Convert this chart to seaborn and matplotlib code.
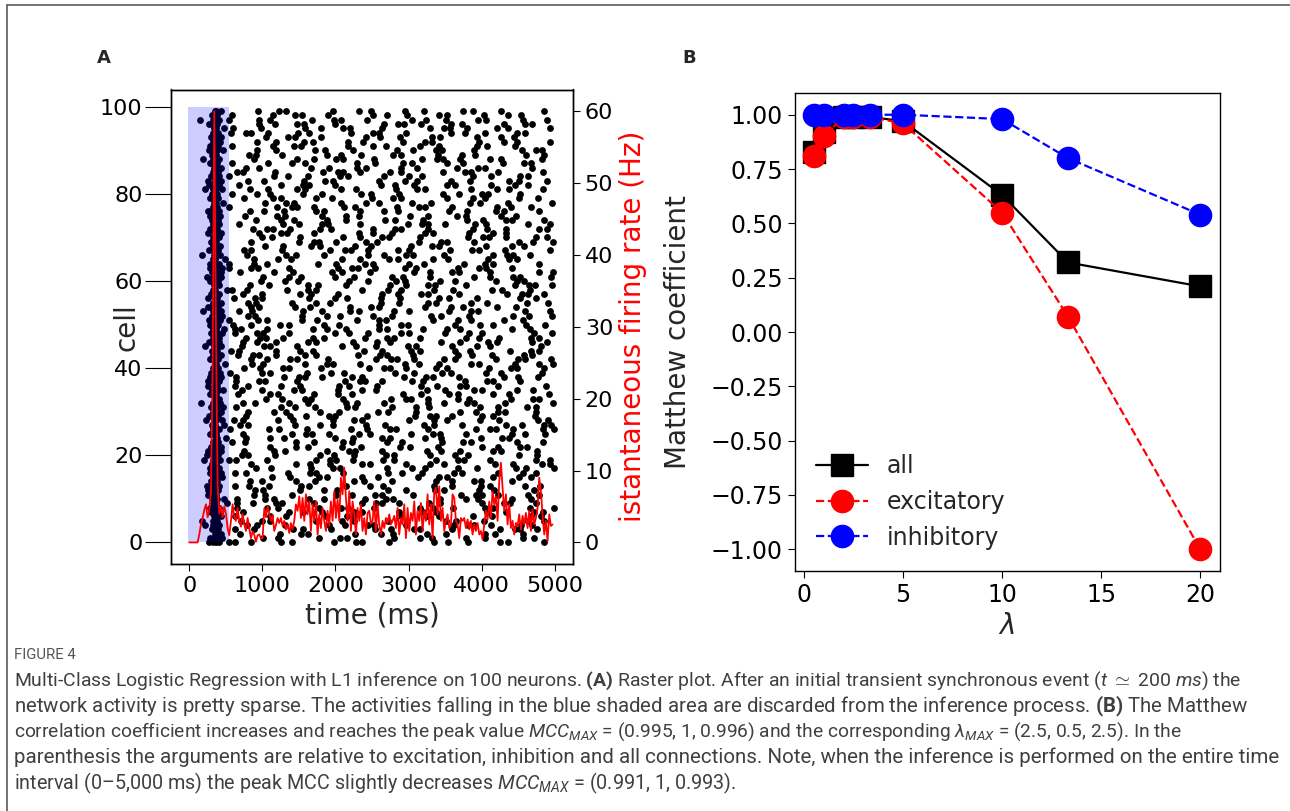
import numpy as np
import pandas as pd
import matplotlib
matplotlib.use('Agg')
import matplotlib.pyplot as plt
import seaborn as sns
from matplotlib.lines import Line2D

sns.set_style('ticks')
plt.rcParams['font.family'] = ['DejaVu Sans']
plt.rcParams['axes.edgecolor'] = 'black'
plt.rcParams['axes.linewidth'] = 1.0
plt.rcParams['xtick.color'] = 'black'
plt.rcParams['ytick.color'] = 'black'
plt.rcParams['xtick.major.size'] = 5
plt.rcParams['ytick.major.size'] = 5
plt.rcParams['mathtext.fontset'] = 'custom'
plt.rcParams['mathtext.rm'] = 'Roboto'
plt.rcParams['mathtext.it'] = 'Roboto:italic'
plt.rcParams['mathtext.bf'] = 'Roboto:bold'

# ---- panel A: spike times per cell (units of 10 ms), cell 0 first ----
# synchronous burst at the start
burst_rows = [
    "27 33 36 40", "29 34 38 45", "35 37 43", "31 34 39", "22 33 36 41",
    "18 32 35 38", "34 37 44", "30 33 36 39", "28 35 40", "33 36 52",
    "31 35 38 47", "25 34 37", "26 32 36 39", "24 33 35 41", "30 34 38",
    "32 36 45", "29 35 38 44", "29 33 37 40", "31 34 36", "20 33 37 42",
    "24 32 35 39", "26 34 36 43", "30 33 38 44", "32 35 39", "36 38 50",
    "28 31 34 37", "33 36 40", "31 35 48", "23 34 37 45", "27 32 36 39",
    "33 35 43", "30 34 38 46", "16 32 36 42", "35 37 41", "29 33 36",
    "31 35 39 46", "25 34 38", "26 32 35 40", "28 33 36 44", "30 34 37 42",
    "32 35 39", "35 37 49", "28 31 36 39", "33 36 44", "31 34 38",
    "21 34 37 43", "27 33 35 40", "32 36 41", "30 35 38 45", "33 37 47",
    "29 32 36 39", "27 34 36 42", "31 35 38 45", "19 33 37 44", "25 30 34 39",
    "32 36 43", "26 35 38", "30 33 37 41", "32 35 51", "34 37 40",
    "28 31 36 39", "24 33 36 43", "31 34 38 44", "29 35 37 45", "29 33 36 40",
    "32 35 49", "17 34 38 42", "27 32 35 39", "33 36 42", "30 34 37",
    "32 36 40", "25 35 37 44", "28 31 34 38", "33 36 41", "31 35 39",
    "28 34 37 42", "26 30 33 36 40", "32 35 38", "34 37 46", "29 33 36 39",
    "31 35 38", "22 33 36 45", "27 32 34 37 41", "26 35 38 43", "30 33 36 40",
    "32 35 39", "34 37 44", "28 31 35 38", "19 33 36 40", "31 34 37",
    "27 35 38 46", "29 32 36 39", "33 36 42", "30 34 37 44", "32 35 39",
    "34 37 48", "27 31 35 38", "15 33 36 40", "31 34 38", "35 37 43",
]
# sparse activity afterwards
sparse_rows = [
    "54 62 85 126 141 198 228 237 273 335 354 381 425 436 486",
    "101 122 177 206 216 280 315 332 378 404 457 471",
    "69 124 153 163 227 262 279 325 351 404 418 456",
    "63 89 142 156 194 254 276 307 316 359 425 445 453 476",
    "79 93 131 191 213 244 253 296 362 382 390 413 454 469",
    "71 100 110 174 209 226 272 298 351 365 403 463 485",
    "63 111 132 187 216 226 290 325 342 388 414 467 481",
    "74 136 155 182 226 237 287 320 338 408 433 472 484",
    "65 106 121 178 208 217 253 315 334 361 405 416 466 499",
    "65 87 118 127 170 236 256 264 287 328 343 400 430 439 475",
    "65 104 116 164 185 240 269 279 343 378 395 441 467",
    "89 103 141 201 223 254 263 306 372 392 400 423 464 479",
    "90 101 151 184 202 272 297 336 348 396 417 472",
    "63 82 109 153 164 214 247 265 335 360 399 411 459 480",
    "83 100 146 172 225 239 277 337 359 390 399 442",
    "113 138 177 189 237 258 313 342 352 416 451 468",
    "63 78 135 165 174 210 272 291 318 362 373 423 456 474",
    "91 112 167 196 206 270 305 322 368 394 447 461 499",
    "84 146 165 192 236 247 297 330 348 418 443 482 494",
    "55 64 107 173 193 201 224 265 280 337 367 376 412 474 493",
    "72 81 117 179 198 225 269 280 330 363 381 451 476",
    "75 116 131 188 218 227 263 325 344 371 415 426 476",
    "111 146 163 209 235 288 302 340 400 422 453 462",
    "58 76 146 171 210 222 270 291 346 375 385 449 484",
    "78 111 129 199 224 263 275 323 344 399 428 438",
    "74 140 160 168 191 232 247 304 334 343 379 441 460 487",
    "56 109 123 161 221 243 274 283 326 392 412 420 443 484 499",
    "70 80 144 179 196 242 268 321 335 373 433 455 486 495",
    "61 73 121 142 197 226 236 300 335 352 398 424 477 491",
    "78 138 160 191 200 243 309 329 337 360 401 416 473",
    "81 116 133 179 205 258 272 310 370 392 423 432 475",
    "64 126 145 172 216 227 277 310 328 398 423 462 474",
    "73 90 136 162 215 229 267 327 349 380 389 432 498",
    "105 127 158 167 210 276 296 304 327 368 383 440 470 479",
    "66 110 121 171 204 222 292 317 356 368 416 437 492",
    "72 99 143 154 204 237 255 325 350 389 401 449 470",
    "63 80 126 152 205 219 257 317 339 370 379 422 488",
    "64 95 104 147 213 233 241 264 305 320 377 407 416 452",
    "64 130 150 158 181 222 237 294 324 333 369 431 450 477",
    "56 100 111 161 194 212 282 307 346 358 406 427 482",
    "75 97 128 137 180 246 266 274 297 338 353 410 440 449 485",
    "86 101 158 188 197 233 295 314 341 385 396 446 479 497",
    "85 107 138 147 190 256 276 284 307 348 363 420 450 459 495",
    "67 87 95 118 159 174 231 261 270 306 368 387 414 458 469",
    "57 68 118 151 169 239 264 303 315 363 384 439 468 478",
    "72 102 111 147 209 228 255 299 310 360 393 411 481",
    "73 92 119 163 174 224 257 275 345 370 409 421 469 490",
    "77 97 105 128 169 184 241 271 280 316 378 397 424 468 479",
    "62 92 101 137 199 218 245 289 300 350 383 401 471 496",
    "62 71 107 169 188 215 259 270 320 353 371 441 466",
    "60 85 124 136 184 205 260 289 299 363 398 415 461 487",
    "55 94 106 154 175 230 259 269 333 368 385 431 457",
    "80 90 154 189 206 252 278 331 345 383 443 465 496",
    "68 86 156 181 220 232 280 301 356 385 395 459 494",
    "84 96 144 165 220 249 259 323 358 375 421 447",
    "80 91 141 174 192 262 287 326 338 386 407 462 491",
    "61 90 100 164 199 216 262 288 341 355 393 453 475",
    "73 99 152 166 204 264 286 317 326 369 435 455 463 486",
    "58 79 134 163 173 237 272 289 335 361 414 428 466",
    "83 109 162 176 214 274 296 327 336 379 445 465 473 496",
    "98 131 149 219 244 283 295 343 364 419 448 458",
    "101 136 153 199 225 278 292 330 390 412 443 452 495",
    "70 116 142 195 209 247 307 329 360 369 412 478 498",
    "54 85 94 137 203 223 231 254 295 310 367 397 406 442",
    "55 88 106 176 201 240 252 300 321 376 405 415 479",
    "88 121 139 209 234 273 285 333 354 409 438 448",
    "79 132 146 184 244 266 297 306 349 415 435 443 466",
    "75 84 127 193 213 221 244 285 300 357 387 396 432 494",
    "103 128 167 179 227 248 303 332 342 406 441 458",
    "84 150 170 178 201 242 257 314 344 353 389 451 470 497",
    "99 113 151 211 233 264 273 316 382 402 410 433 474 489",
    "95 125 134 170 232 251 278 322 333 383 416 434",
    "87 107 115 138 179 194 251 281 290 326 388 407 434 478 489",
    "68 128 150 181 190 233 299 319 327 350 391 406 463 493",
    "91 126 143 189 215 268 282 320 380 402 433 442 485",
    "76 120 131 181 214 232 302 327 366 378 426 447",
    "83 102 129 173 184 234 267 285 355 380 419 431 479",
    "54 120 140 148 171 212 227 284 314 323 359 421 440 467",
    "104 133 143 207 242 259 305 331 384 398 436 496",
    "75 114 126 174 195 250 279 289 353 388 405 451 477",
    "58 93 110 156 182 235 249 287 347 369 400 409 452",
    "83 108 147 159 207 228 283 312 322 386 421 438 484",
    "68 125 155 164 200 262 281 308 352 363 413 446 464",
    "81 102 157 186 196 260 295 312 358 384 437 451 489",
    "54 116 135 162 206 217 267 300 318 388 413 452 464",
    "65 74 117 183 203 211 234 275 290 347 377 386 422 484",
    "78 96 166 191 230 242 290 311 366 395 405 469",
    "58 108 141 159 229 254 293 305 353 374 429 458 468",
    "88 148 170 201 210 253 319 339 347 370 411 426 483",
    "82 91 127 189 208 235 279 290 340 373 391 461 486",
    "93 119 172 186 224 284 306 337 346 389 455 475 483",
    "59 114 143 153 217 252 269 315 341 394 408 446",
    "93 118 157 169 217 238 293 322 332 396 431 448 494",
    "105 135 144 180 242 261 288 332 343 393 426 444",
    "57 77 85 108 149 164 221 251 260 296 358 377 404 448 459",
    "60 98 158 180 211 220 263 329 349 357 380 421 436 493",
    "95 117 148 157 200 266 286 294 317 358 373 430 460 469",
    "55 96 111 168 198 207 243 305 324 351 395 406 456 489",
    "58 115 145 154 190 252 271 298 342 353 403 436 454",
    "94 123 133 197 232 249 295 321 374 388 426 486",
]
spike_unit_ms = 10

# shaded (discarded) interval and its cell span
shade_ms = (-15, 545)
shade_cells = (0, 100)

# instantaneous firing rate (Hz), sampled every 22.8 ms from t = 0
rate_dt_ms = 22.8
rate_hz = [
    0, 0, 0, 0, 0, 0, 1.1, 2.5, 3.4, 4.5,
    5.3, 3.5, 4.5, 7.0, 24, 60, 30, 8, 4.0, 5.0,
    3.5, 5.0, 4.0, 2.0, 1.0, 3.0, 5.3, 3.5, 3.0, 4.8,
    3.0, 2.2, 4.0, 2.5, 1.6, 3.4, 2.0, 0.6, 1.5, 1.1,
    0.1, 1.0, 1.1, 0.6, 0.6, 4.7, 3.5, 5.0, 4.0, 3.0,
    3.8, 1.6, 2.4,
    3.4, 2.7, 3.4, 2.3, 3.0, 1.8, 2.5, 1.3, 2.7, 1.8,
    3.0, 5.3, 4.4, 6.4, 3.4, 6.2, 3.0, 6.7, 3.9, 5.7,
    1.6, 5.3, 3.0, 5.7, 1.1, 3.9, 2.0, 4.8, 3.0, 1.6,
    4.4, 2.3, 5.7, 3.0, 7.1, 3.4, 6.0, 3.0, 9.0, 6.7,
    10.4, 6.2, 3.0, 7.1, 1.6, 5.7, 3.9, 1.1, 4.8, 3.0,
    5.3, 1.6, 3.4, 1.1, 4.1,
    4.4, 2.6, 3.0, 5.7, 1.6, 5.3, 2.5, 1.1, 3.0, 2.0,
    3.4, 2.7, 3.9, 2.5, 3.0, 3.7, 2.0, 4.8, 1.1, 3.4,
    2.5, 5.3, 0.6, 4.8, 1.6, 4.1, 3.0, 5.7, 1.1, 4.4,
    3.0, 5.5, 1.6, 4.4, 3.0, 6.7, 2.5, 5.3, 0.6, 7.1,
    7.6, 3.9, 7.8, 3.0, 4.8, 1.6, 3.0, 3.9, 2.0, 2.5,
    6.7, 6.2, 3.0, 2.5, 0.6, 3.4,
    3.0, 3.4, 2.0, 3.2, 1.8, 3.0, 1.1, 2.5, 1.6, 2.7,
    1.1, 1.6, 0.4, 2.5, 4.4, 3.2, 5.7, 3.4, 7.1, 5.3,
    6.4, 3.0, 8.5, 11.1, 7.6, 4.4, 6.7, 2.5, 5.3, 2.0,
    3.0, 1.1, 2.7, 2.3, 3.9, 1.8, 3.7, 2.5, 4.1, 2.0,
    4.4, 1.6, 4.6, 2.5, 3.4, 4.8, 9.0, 7.1, 3.9, 1.1,
    3.0, 0.2, 3.9, 2.3, 2.5,
]

# ---- panel B: Matthew correlation coefficient vs lambda ----
lam = [0.5, 1, 2, 2.5, 3.33, 5, 10, 13.33, 20]
mcc_all = [0.83, 0.92, 0.99, 0.99, 0.99, 0.97, 0.63, 0.32, 0.21]
mcc_exc = [0.81, 0.90, 0.99, 0.99, 0.99, 0.96, 0.55, 0.07, -1.00]
mcc_inh = [1.00, 1.00, 1.00, 1.00, 1.00, 1.00, 0.98, 0.80, 0.54]

caption_lines = [
    r"Multi-Class Logistic Regression with L1 inference on 100 neurons. $\mathbf{(A)}$ Raster plot. After an initial transient synchronous event ($t$ $\simeq$ 200 $ms$) the",
    r"network activity is pretty sparse. The activities falling in the blue shaded area are discarded from the inference process. $\mathbf{(B)}$ The Matthew",
    r"correlation coefficient increases and reaches the peak value $MCC_{MAX}$ = (0.995, 1, 0.996) and the corresponding $\lambda_{MAX}$ = (2.5, 0.5, 2.5). In the",
    "parenthesis the arguments are relative to excitation, inhibition and all connections. Note, when the inference is performed on the entire time",
    r"interval (0–5,000 ms) the peak MCC slightly decreases $MCC_{MAX}$ = (0.991, 1, 0.993).",
]
caption_right_px = [1237, 1248, 1180, 1275, 735]

W, H = 1290, 811
fig = plt.figure(figsize=(W / 100, H / 100), dpi=100)
fig.patch.set_facecolor('white')


def px_axes(left, top, right, bottom):
    return fig.add_axes([left / W, 1 - bottom / H, (right - left) / W, (bottom - top) / H])


# ---------- panel A ----------
axA = px_axes(171, 89.5, 573, 564)
recs = []
for cell, (b, s) in enumerate(zip(burst_rows, sparse_rows)):
    for t in (b + ' ' + s).split():
        recs.append((int(t) * spike_unit_ms, cell))
raster = pd.DataFrame(recs, columns=['time', 'cell'])
sns.scatterplot(data=raster, x='time', y='cell', s=24, color='black', linewidth=0,
                legend=False, ax=axA, zorder=2)
axA.fill_between(list(shade_ms), shade_cells[0], shade_cells[1], color='blue',
                 alpha=0.2, lw=0, zorder=3)
axA.set_xlim(-250, 5250)
axA.set_ylim(-4.95, 103.95)
axA.set_xticks([0, 1000, 2000, 3000, 4000, 5000])
axA.set_yticks([0, 20, 40, 60, 80, 100])
axA.tick_params(labelsize=16)
axA.tick_params(axis='y', length=19, pad=1.5)
axA.set_xlabel('time (ms)', fontsize=20)
axA.set_ylabel('cell', fontsize=20)
axA.yaxis.set_label_coords(-0.075, 0.5)

axR = axA.twinx()
rate = pd.DataFrame({'t': np.arange(len(rate_hz)) * rate_dt_ms, 'hz': rate_hz})
sns.lineplot(data=rate, x='t', y='hz', color='red', lw=1.3, ax=axR)
axR.set_ylim(-3, 63)
axR.set_yticks([0, 10, 20, 30, 40, 50, 60])
axR.tick_params(labelsize=16)
axR.set_ylabel('istantaneous firing rate (Hz)', color='red', fontsize=20)
axR.set_xlabel('')

# ---------- panel B ----------
axB = px_axes(794.5, 93, 1219.6, 571)
series = [('all', mcc_all, 'black', 's', '-'),
          ('excitatory', mcc_exc, 'red', 'o', '--'),
          ('inhibitory', mcc_inh, 'blue', 'o', '--')]
for name, vals, col, mk, ls in series:
    sns.lineplot(x=lam, y=vals, color=col, marker=mk, markersize=16, linestyle=ls,
                 lw=1.6, markeredgecolor=col, markeredgewidth=1, label=name, ax=axB)
axB.set_xlim(-0.475, 20.975)
axB.set_ylim(-1.1, 1.1)
axB.set_xticks([0, 5, 10, 15, 20])
axB.set_yticks([-1.0, -0.75, -0.5, -0.25, 0.0, 0.25, 0.5, 0.75, 1.0])
axB.set_yticklabels(['\u22121.00', '\u22120.75', '\u22120.50', '\u22120.25',
                     '0.00', '0.25', '0.50', '0.75', '1.00'])
axB.tick_params(labelsize=17)
axB.set_xlabel('λ', fontsize=20, fontstyle='italic')
axB.set_ylabel('Matthew coefficient', fontsize=20)
axB.yaxis.set_label_coords(-0.24, 0.5)
axB.legend(loc='lower left', frameon=False, fontsize=17, handlelength=2.2)

# ---------- panel letters, border, caption ----------
fig.text(97 / W, 1 - 58 / H, 'A', fontsize=13, fontweight='bold', va='center')
fig.text(682 / W, 1 - 58 / H, 'B', fontsize=13, fontweight='bold', va='center')

fig.add_artist(Line2D([7 / W, 1], [1 - 5 / H, 1 - 5 / H], transform=fig.transFigure,
                      color='#5a5a5a', lw=1.2))
fig.add_artist(Line2D([7 / W, 7 / W], [1 - 5 / H, 0], transform=fig.transFigure,
                      color='#5a5a5a', lw=1.2))

cap_font = ['Roboto', 'DejaVu Sans']
fig.text(14 / W, 1 - 655 / H, 'FIGURE 4', fontsize=10.7, color='#555555',
         family=cap_font, va='center')
cap_texts = []
for i, line in enumerate(caption_lines):
    cap_texts.append(fig.text(14 / W, 1 - (681 + 25.5 * i) / H, line, fontsize=14.6,
                              color='#404040', family=cap_font, va='center'))

# fit each caption line to the width it takes in the reference
fig.canvas.draw()
renderer = fig.canvas.get_renderer()
for txt, right in zip(cap_texts, caption_right_px):
    w = txt.get_window_extent(renderer).width
    txt.set_fontsize(txt.get_fontsize() * (right - 14) / w)

fig.savefig('out.png', dpi=100)
